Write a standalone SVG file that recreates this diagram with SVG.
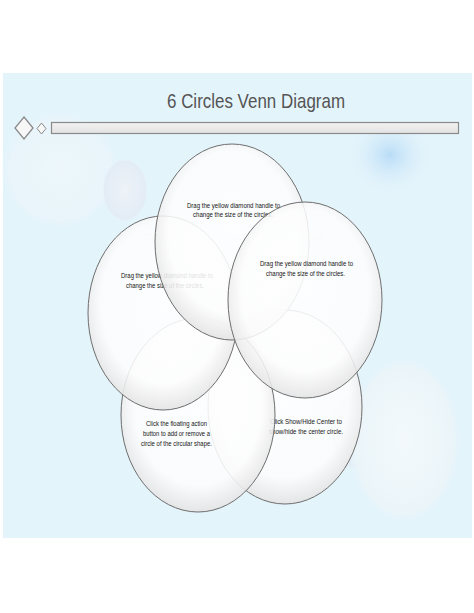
<svg xmlns="http://www.w3.org/2000/svg" width="474" height="613" viewBox="0 0 474 613">
<style>
.c{fill:url(#cg);stroke:#6e6e6e;stroke-width:1}
.t{font-family:"Liberation Sans",Arial,sans-serif;font-size:7.5px;fill:#151515;text-anchor:middle;lengthAdjust:spacingAndGlyphs}
.f{font-family:"Liberation Sans",Arial,sans-serif;font-size:9px;fill:#dfe6ea}
</style>
<defs>
<radialGradient id="cg" cx="0.5" cy="0.45" r="0.55">
<stop offset="0" stop-color="#ffffff" stop-opacity="0.88"/>
<stop offset="0.75" stop-color="#fdfdfd" stop-opacity="0.86"/>
<stop offset="1" stop-color="#e4e4e4" stop-opacity="0.9"/>
</radialGradient>
<radialGradient id="blue" cx="0.5" cy="0.5" r="0.5">
<stop offset="0" stop-color="#b8dcf7"/>
<stop offset="1" stop-color="#e4f4fb" stop-opacity="0"/>
</radialGradient>
<radialGradient id="pale" cx="0.5" cy="0.5" r="0.5">
<stop offset="0" stop-color="#f3f9fc"/>
<stop offset="0.85" stop-color="#ebf5f9"/>
<stop offset="1" stop-color="#e4f4fb" stop-opacity="0"/>
</radialGradient>
<radialGradient id="bub" cx="0.5" cy="0.5" r="0.5">
<stop offset="0" stop-color="#eef2f8"/>
<stop offset="0.9" stop-color="#e3ecf5"/>
<stop offset="1" stop-color="#e4f4fb" stop-opacity="0"/>
</radialGradient>
<linearGradient id="bar" x1="0" y1="0" x2="0" y2="1">
<stop offset="0" stop-color="#f2f2f2"/>
<stop offset="1" stop-color="#e2e2e2"/>
</linearGradient>
</defs>
<rect width="474" height="613" fill="#ffffff"/>
<g id="background">
<rect x="3" y="73" width="469" height="465" fill="#e4f4fb"/>
<ellipse cx="60" cy="170" rx="60" ry="60" fill="url(#pale)" opacity="0.6"/>
<ellipse cx="125" cy="190" rx="23" ry="32" fill="url(#bub)"/>
<ellipse cx="390" cy="155" rx="45" ry="42" fill="url(#blue)"/>
<ellipse cx="355" cy="430" rx="25" ry="40" fill="url(#bub)"/>
<ellipse cx="404" cy="440" rx="58" ry="85" fill="url(#pale)"/>
</g>
<g id="title">
<text x="256" y="108" font-family="'Liberation Sans',Arial,sans-serif" font-size="21" fill="#555" text-anchor="middle" textLength="178" lengthAdjust="spacingAndGlyphs">6 Circles Venn Diagram</text>
<rect x="51.5" y="122.5" width="407" height="11" fill="url(#bar)" stroke="#8a8a8a" stroke-width="1.2"/>
<polygon points="24,117 33,128 24,139 15,128" fill="#f7f7f7" stroke="#8a8a8a" stroke-width="1.3"/>
<polygon points="41.5,123 46,128.5 41.5,134 37,128.5" fill="#f7f7f7" stroke="#8a8a8a" stroke-width="1"/>
</g>
<g id="faint-labels">
<text class="f" x="145" y="240">Ex</text>
<text class="f" x="227" y="240">Text</text>
<text class="f" x="308" y="240">Text</text>
</g>
<g id="circle5">
<ellipse class="c" cx="285" cy="407" rx="77" ry="97"/>
<text class="t" x="306" y="424" textLength="72" lengthAdjust="spacingAndGlyphs">Click Show/Hide Center to</text>
<text class="t" x="306" y="434" textLength="74" lengthAdjust="spacingAndGlyphs">show/hide the center circle.</text>
</g>
<g id="circle4">
<ellipse class="c" cx="198" cy="415" rx="77" ry="97"/>
<text class="t" x="176.5" y="426" textLength="61" lengthAdjust="spacingAndGlyphs">Click the floating action</text>
<text class="t" x="176.5" y="436" textLength="67" lengthAdjust="spacingAndGlyphs">button to add or remove a</text>
<text class="t" x="176.5" y="446" textLength="71" lengthAdjust="spacingAndGlyphs">circle of the circular shape.</text>
</g>
<g id="circle2">
<ellipse class="c" cx="163" cy="313" rx="75" ry="97"/>
<text class="t" x="167" y="278" textLength="92" lengthAdjust="spacingAndGlyphs">Drag the yellow diamond handle to</text>
<text class="t" x="165" y="288" textLength="78" lengthAdjust="spacingAndGlyphs">change the size of the circles.</text>
</g>
<g id="circle1">
<ellipse class="c" cx="232" cy="242" rx="77" ry="98"/>
<text class="t" x="233.5" y="208" textLength="93" lengthAdjust="spacingAndGlyphs">Drag the yellow diamond handle to</text>
<text class="t" x="233" y="217" textLength="80" lengthAdjust="spacingAndGlyphs">change the size of the circles.</text>
</g>
<g id="circle3">
<ellipse class="c" cx="305" cy="300" rx="77" ry="98"/>
<text class="t" x="306.5" y="266" textLength="93" lengthAdjust="spacingAndGlyphs">Drag the yellow diamond handle to</text>
<text class="t" x="305.5" y="276" textLength="79" lengthAdjust="spacingAndGlyphs">change the size of the circles.</text>
</g>
<g id="connectors"/>
</svg>
